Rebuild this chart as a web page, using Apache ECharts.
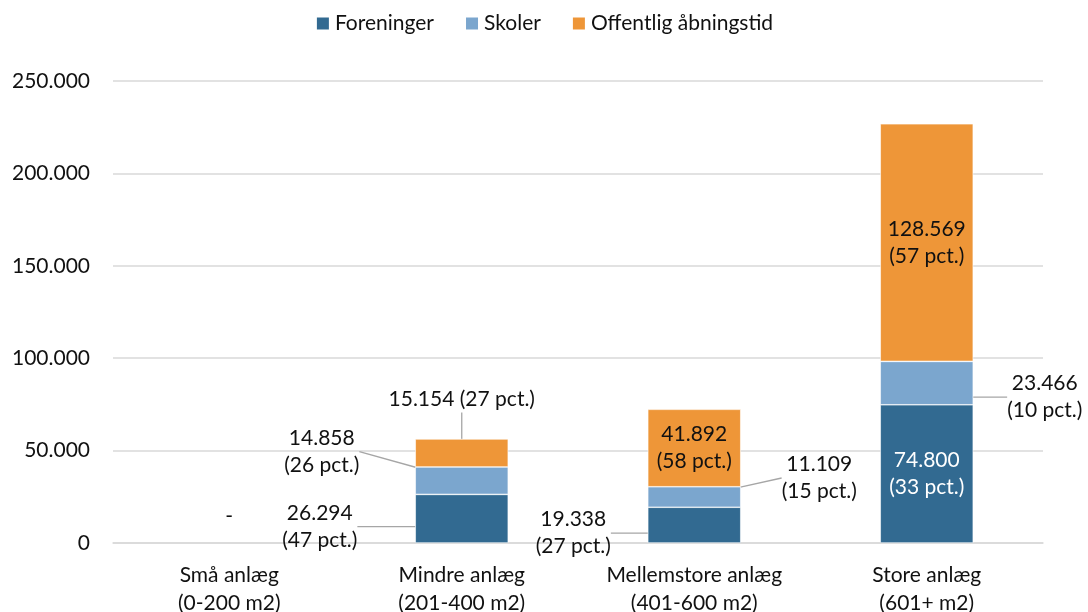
<!DOCTYPE html>
<html>
<head>
<meta charset="utf-8">
<script src="https://cdn.jsdelivr.net/npm/echarts@6/dist/echarts.min.js"></script>
<style>
  html, body { margin: 0; padding: 0; background: #ffffff; }
  #chart { width: 1088px; height: 612px; }
</style>
</head>
<body>
<div id="chart"></div>
<script>
// Categories (facility size) and series values
const categories = [
  'Små anlæg\n(0-200 m2)',
  'Mindre anlæg\n(201-400 m2)',
  'Mellemstore anlæg\n(401-600 m2)',
  'Store anlæg\n(601+ m2)'
];
const seriesNames = ['Foreninger', 'Skoler', 'Offentlig åbningstid'];
const foreninger = [0, 26294, 19338, 74800];
const skoler = [0, 14858, 11109, 23466];
const offentlig = [0, 15154, 41892, 128569];
const yTicks = [0, 50000, 100000, 150000, 200000, 250000];

const colors = ['#326A91', '#7BA6CE', '#EE9638'];
const FONT = 'Lato';
const values = [foreninger, skoler, offentlig];
const totals = categories.map((_, i) => values.reduce((s, arr) => s + arr[i], 0));

// Danish thousand separator
function fmt(v) {
  return String(Math.round(v)).replace(/\B(?=(\d{3})+(?!\d))/g, '.');
}

// Where each label is moved out of its segment (seriesIndex-dataIndex -> [dx, dy])
const labelShift = {
  '0-0': [0, -27],
  '0-1': [-142, 8],
  '1-1': [-140, -29],
  '2-1': [0, -54],
  '0-2': [-121, 8],
  '1-2': [125, -19],
  '1-3': [118, 14]
};
// Segments whose label sits on a single line
const singleLine = { '2-1': true };
// Labels drawn in white
const whiteLabel = { '0-3': true };

function buildSeries(sIdx) {
  return {
    name: seriesNames[sIdx],
    type: 'bar',
    stack: 'total',
    barWidth: '40%',
    itemStyle: { color: colors[sIdx], borderColor: '#ffffff', borderWidth: 0.6 },
    data: values[sIdx].map((v, dIdx) => {
      const key = sIdx + '-' + dIdx;
      const isZero = v === 0;
      const showLabel = !isZero || key === '0-0';
      const moved = !!labelShift[key];
      return {
        value: v,
        // empty segments get no outline so the baseline stays intact
        itemStyle: isZero ? { borderWidth: 0 } : undefined,
        label: {
          show: showLabel,
          color: whiteLabel[key] ? '#ffffff' : '#111111'
        },
        labelLine: { show: moved && !isZero }
      };
    }),
    label: {
      position: 'inside',
      fontFamily: FONT,
      fontSize: 21,
      lineHeight: 27,
      align: 'center',
      formatter: p => {
        if (p.value === 0) return '-';
        const key = p.seriesIndex + '-' + p.dataIndex;
        const pct = Math.round(p.value / totals[p.dataIndex] * 100);
        const sep = singleLine[key] ? ' ' : '\n';
        return fmt(p.value) + sep + '(' + pct + ' pct.)';
      }
    },
    labelLine: {
      lineStyle: { color: '#A6A6A6', width: 1.3 }
    },
    labelLayout: params => {
      const s = labelShift[params.seriesIndex + '-' + params.dataIndex];
      return s ? { dx: s[0], dy: s[1] } : {};
    }
  };
}

const chart = echarts.init(document.getElementById('chart'), null, { renderer: 'canvas' });
chart.setOption({
  animation: false,
  backgroundColor: '#ffffff',
  textStyle: { fontFamily: FONT },
  legend: {
    top: 8,
    left: 'center',
    itemWidth: 14,
    itemHeight: 14,
    itemGap: 30,
    icon: 'rect',
    textStyle: { fontFamily: FONT, fontSize: 21, color: '#111111' },
    data: seriesNames
  },
  grid: {
    left: 113, right: 45, top: 81, bottom: 69,
    containLabel: false,
    outerBoundsMode: 'none'
  },
  xAxis: {
    type: 'category',
    data: categories,
    axisTick: { show: false },
    axisLine: { show: true, lineStyle: { color: '#D9D9D9', width: 1.5 } },
    axisLabel: {
      margin: 18,
      fontFamily: FONT,
      fontSize: 21,
      lineHeight: 28,
      color: '#111111',
      interval: 0
    }
  },
  yAxis: {
    type: 'value',
    min: yTicks[0],
    max: yTicks[yTicks.length - 1],
    interval: yTicks[1] - yTicks[0],
    axisLine: { show: false },
    axisTick: { show: false },
    splitLine: { lineStyle: { color: '#D9D9D9', width: 1.5 } },
    axisLabel: {
      margin: 23,
      fontFamily: FONT,
      fontSize: 21,
      color: '#111111',
      formatter: v => fmt(v)
    }
  },
  series: [buildSeries(0), buildSeries(1), buildSeries(2)]
});
</script>
</body>
</html>
